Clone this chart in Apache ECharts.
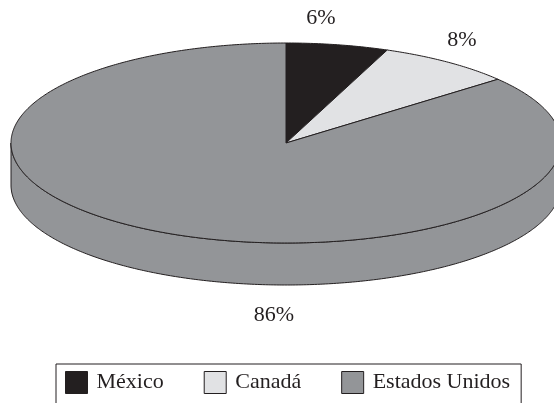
<!DOCTYPE html>
<html>
<head>
<meta charset="utf-8">
<script src="https://cdn.jsdelivr.net/npm/echarts@6/dist/echarts.min.js"></script>
<style>
html,body{margin:0;padding:0;background:#fff;}
#chart{width:554px;height:403px;}
</style>
</head>
<body>
<div id="chart"></div>
<script>
// ---- data ----
const categories = ['México', 'Canadá', 'Estados Unidos'];
const values = [6, 8, 86];
const labels = ['6%', '8%', '86%'];

// ---- layout / style ----
const COLORS = ['#231f20', '#e1e2e4', '#939598'];
const STROKE = '#231f20';
const CX = 286, CY = 143, RX = 275, RY = 100, DEPTH = 42;
const LABEL_POS = [[321, 18], [462, 40], [274, 315]];
const FONT = '"Liberation Serif", "DejaVu Serif", serif';

const total = values.reduce((a, b) => a + b, 0);

function pt(t, dy) {
  return [CX + RX * Math.sin(t), CY - RY * Math.cos(t) + (dy || 0)];
}
function arc(a0, a1, dy) {
  const pts = [];
  const n = Math.max(2, Math.ceil(Math.abs(a1 - a0) / 0.01));
  for (let k = 0; k <= n; k++) pts.push(pt(a0 + (a1 - a0) * k / n, dy));
  return pts;
}

function makeRender(i) {
  return function (params, api) {
    const v = api.value(0);
    let before = 0;
    for (let j = 0; j < i; j++) before += values[j];
    const a0 = before / total * Math.PI * 2;
    const a1 = (before + v) / total * Math.PI * 2;
    const children = [];
    // visible side (front half)
    const s = Math.max(a0, Math.PI / 2), e = Math.min(a1, Math.PI * 1.5);
    if (e > s) {
      const pts = arc(s, e, 0).concat(arc(e, s, DEPTH));
      children.push({
        type: 'polygon', z2: 0,
        shape: { points: pts },
        style: { fill: COLORS[i], stroke: STROKE, lineWidth: 1 }
      });
    }
    // top face
    const top = [[CX, CY]].concat(arc(a0, a1, 0));
    children.push({
      type: 'polygon', z2: 10,
      shape: { points: top },
      style: { fill: COLORS[i], stroke: STROKE, lineWidth: 1, lineJoin: 'miter' }
    });
    children.push({
      type: 'text', z2: 20,
      x: LABEL_POS[i][0], y: LABEL_POS[i][1],
      style: {
        text: labels[i], fill: '#231f20', font: '22px ' + FONT,
        align: 'center', verticalAlign: 'middle'
      }
    });
    return { type: 'group', children: children };
  };
}

const chart = echarts.init(document.getElementById('chart'), null, { renderer: 'canvas' });
chart.setOption({
  animation: false,
  backgroundColor: '#ffffff',
  legend: {
    data: categories,
    left: 56, top: 364,
    orient: 'horizontal',
    padding: [7, 11, 10, 9],
    borderColor: STROKE, borderWidth: 1,
    itemWidth: 22, itemHeight: 22, itemGap: 40,
    icon: 'rect',
    selectedMode: false,
    itemStyle: { borderColor: STROKE, borderWidth: 1 },
    textStyle: { fontFamily: FONT, fontSize: 22, color: '#231f20', padding: [0, 0, 0, 4] }
  },
  series: categories.map((name, i) => ({
    type: 'custom',
    name: name,
    coordinateSystem: 'none',
    itemStyle: { color: COLORS[i], borderColor: STROKE, borderWidth: 1 },
    renderItem: makeRender(i),
    data: [[values[i]]]
  }))
});
</script>
</body>
</html>
